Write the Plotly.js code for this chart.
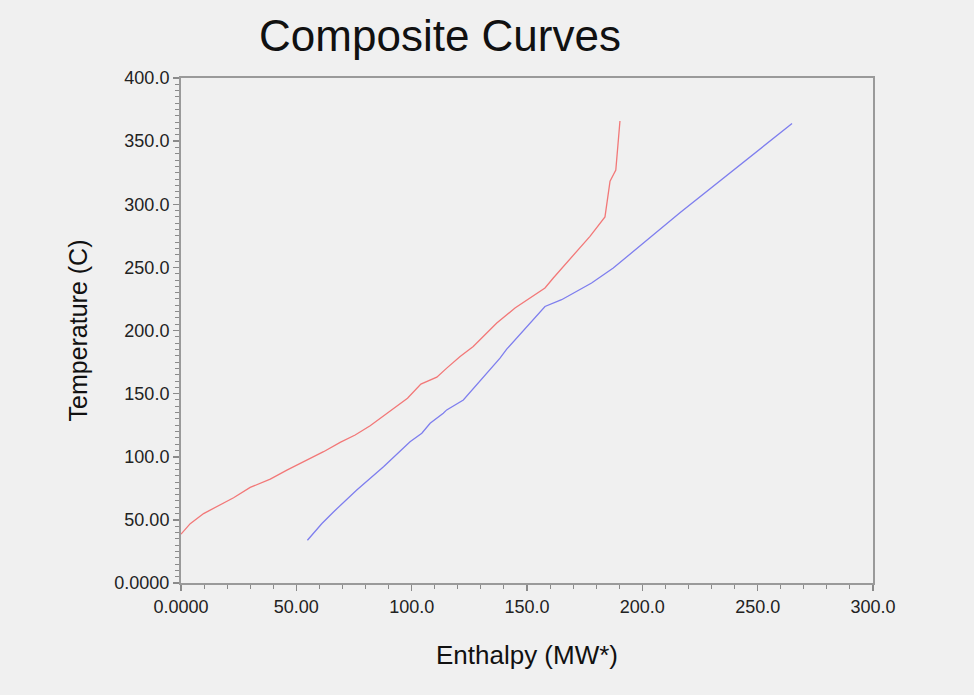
<!DOCTYPE html>
<html>
<head>
<meta charset="utf-8">
<script src="https://cdn.plot.ly/plotly-3.0.1.min.js"></script>
<style>html,body{margin:0;padding:0;background:#f0f0f0;}#chart{width:974px;height:695px;}</style>
</head>
<body>
<div id="chart"></div>
<script>
// Hot composite curve (red)
const hotEnthalpy = [0, 4.0, 9.8, 15.6, 22.8, 30.0, 38.7, 45.9, 54.6, 61.8, 69.0, 75.5, 82.0, 88.5, 95.0, 98.2, 104.0, 110.9, 115.2, 121.0, 126.7, 129.6, 136.9, 144.8, 151.3, 157.8, 161.4, 167.2, 172.2, 177.3, 183.8, 186.0, 188.5, 190.3];
const hotTemp =      [38.7, 47.0, 55.0, 60.3, 67.5, 75.7, 82.3, 89.4, 97.4, 104.0, 111.4, 117.2, 124.6, 133.1, 141.8, 146.3, 157.5, 163.0, 170.2, 179.4, 187.3, 192.6, 205.9, 217.8, 225.7, 233.7, 241.6, 253.5, 264.0, 274.6, 290.0, 318.3, 327.0, 365.9];
// Cold composite curve (blue)
const coldEnthalpy = [54.8, 61.1, 66.1, 76.2, 87.8, 99.3, 104.4, 108.0, 113.7, 115.2, 122.4, 128.2, 138.3, 141.2, 157.8, 165.0, 178.0, 187.4, 216.3, 264.9];
const coldTemp =     [33.9, 47.1, 56.3, 73.6, 92.1, 111.9, 118.6, 126.5, 134.4, 137.1, 145.0, 156.9, 178.1, 185.2, 219.0, 224.4, 237.6, 249.5, 293.2, 364.0];
// Tick labels
const xTickVals = [0, 50, 100, 150, 200, 250, 300];
const xTickText = ["0.0000", "50.00", "100.0", "150.0", "200.0", "250.0", "300.0"];
const yTickVals = [0, 50, 100, 150, 200, 250, 300, 350, 400];
const yTickText = ["0.0000", "50.00", "100.0", "150.0", "200.0", "250.0", "300.0", "350.0", "400.0"];

const font = "Liberation Sans, Arial, sans-serif";
const data = [
  {x: hotEnthalpy, y: hotTemp, type: 'scatter', mode: 'lines', name: 'Hot', line: {color: '#f27878', width: 1.3}},
  {x: coldEnthalpy, y: coldTemp, type: 'scatter', mode: 'lines', name: 'Cold', line: {color: '#7e7eee', width: 1.3}}
];
const axisCommon = {
  showgrid: false, zeroline: false, showline: true, linecolor: '#9a9a9a', linewidth: 2, mirror: true,
  ticks: 'outside', ticklen: 6, tickwidth: 1.5, tickcolor: '#8a8a8a',
  tickfont: {family: font, size: 18, color: '#222'}, tickmode: 'array', fixedrange: true
};
const layout = {
  width: 974, height: 695,
  paper_bgcolor: '#f0f0f0', plot_bgcolor: '#f0f0f0',
  margin: {l: 181, r: 101, t: 78, b: 112},
  showlegend: false,
  title: {text: 'Composite Curves', font: {family: font, size: 44, color: '#111'}, x: 440/974, xanchor: 'center', y: 1 - 36/695, yanchor: 'middle'},
  xaxis: Object.assign({}, axisCommon, {
    range: [0, 300], tickvals: xTickVals, ticktext: xTickText,
    minor: {tickmode: 'linear', tick0: 0, dtick: 10, ticks: 'outside', ticklen: 4, tickcolor: '#8a8a8a', tickwidth: 1},
    title: {text: 'Enthalpy (MW*)', font: {family: font, size: 26, color: '#111'}, standoff: 30}
  }),
  yaxis: Object.assign({}, axisCommon, {
    range: [0, 400], tickvals: yTickVals, ticktext: yTickText,
    minor: {tickmode: 'linear', tick0: 0, dtick: 5, ticks: 'outside', ticklen: 4, tickcolor: '#8a8a8a', tickwidth: 1},
    title: {text: 'Temperature (C)', font: {family: font, size: 25, color: '#111'}, standoff: 20}
  })
};
Plotly.newPlot('chart', data, layout, {displayModeBar: false, staticPlot: true});
</script>
</body>
</html>
